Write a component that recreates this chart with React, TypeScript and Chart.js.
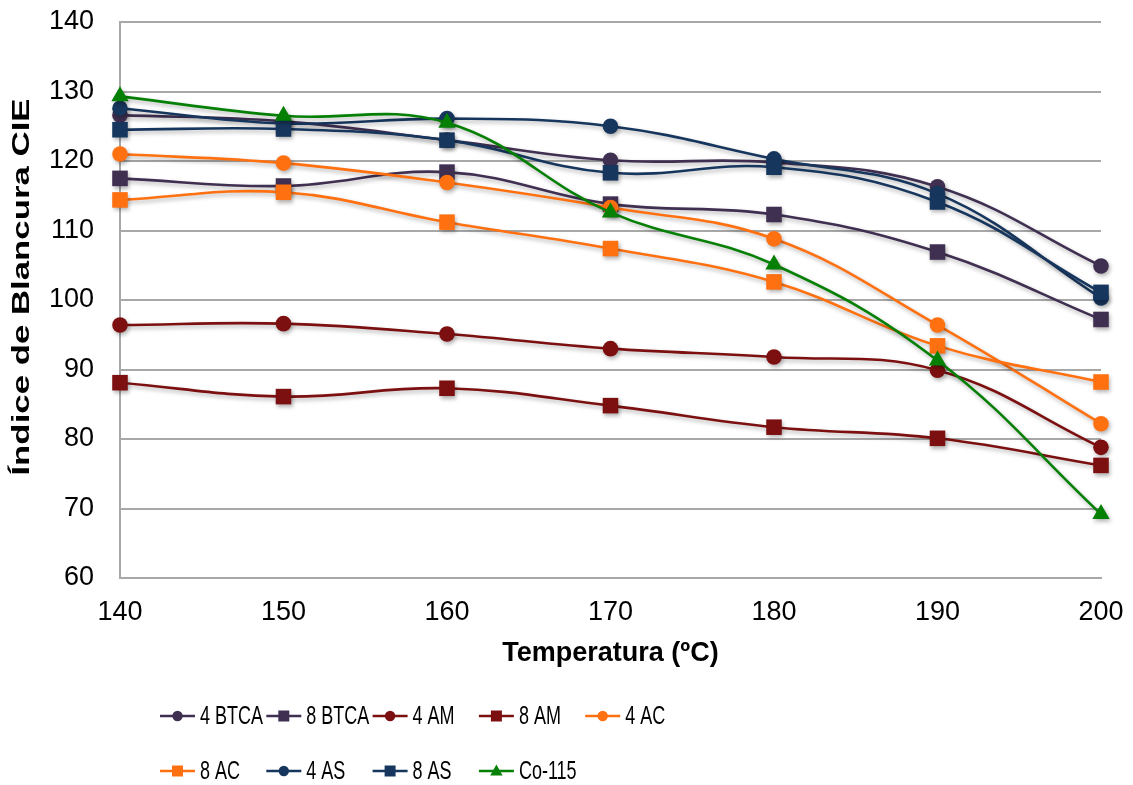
import { useEffect, useRef } from 'react';
import { Chart, registerables } from 'chart.js';

Chart.register(...registerables);

const temperatures = ['140', '150', '160', '170', '180', '190', '200'];

const btca4 = [126.6, 125.7, 123.0, 120.1, 119.8, 116.3, 104.9];
const btca8 = [117.5, 116.4, 118.4, 113.8, 112.3, 106.9, 97.2];
const am4 = [96.4, 96.6, 95.1, 93.0, 91.8, 89.9, 78.8];
const am8 = [88.1, 86.1, 87.3, 84.8, 81.7, 80.1, 76.2];
const ac4 = [121.0, 119.7, 116.9, 113.3, 108.8, 96.4, 82.2];
const ac8 = [114.4, 115.5, 111.2, 107.4, 102.6, 93.4, 88.2];
const as4 = [127.6, 125.4, 126.1, 125.0, 120.3, 115.3, 100.3];
const as8 = [124.5, 124.6, 123.0, 118.3, 119.1, 114.1, 101.1];
const co115 = [129.3, 126.5, 125.5, 112.6, 105.1, 91.3, 69.2];

const seriesLabels = ['4 BTCA', '8 BTCA', '4 AM', '8 AM', '4 AC', '8 AC', '4 AS', '8 AS', 'Co-115'];
const seriesValues = [btca4, btca8, am4, am8, ac4, ac8, as4, as8, co115];
const seriesColors = ['#3F2F51', '#3F2F51', '#7C1010', '#7C1010', '#FF7010', '#FF7010', '#17365D', '#17365D', '#058005'];
const seriesMarkers = ['circle', 'rect', 'circle', 'rect', 'circle', 'rect', 'circle', 'rect', 'triangle'];

const yMin = 60;
const yMax = 140;
const yStep = 10;

const xTitle = 'Temperatura (ºC)';
const yTitle = 'Índice de Blancura CIE';

const FONT = '"Liberation Sans", Arial, sans-serif';
const GRID = '#A8A8A8';
const NONE = 'rgba(0,0,0,0)';

function markerRadius(style: string) {
  if (style === 'rect') return 11;
  if (style === 'triangle') return 10;
  return 7.8;
}

function drawLegendMarker(ctx: CanvasRenderingContext2D, style: string, x: number, y: number, color: string) {
  ctx.fillStyle = color;
  ctx.beginPath();
  if (style === 'circle') {
    ctx.arc(x, y, 5.2, 0, Math.PI * 2);
  } else if (style === 'rect') {
    ctx.rect(x - 5.5, y - 5.5, 11, 11);
  } else {
    ctx.moveTo(x, y - 6.5);
    ctx.lineTo(x + 6.2, y + 4.5);
    ctx.lineTo(x - 6.2, y + 4.5);
    ctx.closePath();
  }
  ctx.fill();
}

const decorPlugin = {
  id: 'decor',
  beforeDatasetsDraw(chart: any) {
    const ctx = chart.ctx;
    ctx.save();
    ctx.shadowColor = 'rgba(0,0,0,0.30)';
    ctx.shadowBlur = 4;
    ctx.shadowOffsetX = 1.5;
    ctx.shadowOffsetY = 2.5;
  },
  afterDatasetsDraw(chart: any) {
    chart.ctx.restore();
  },
  afterDraw(chart: any) {
    const ctx: CanvasRenderingContext2D = chart.ctx;
    const area = chart.chartArea;

    // X axis title
    ctx.save();
    ctx.fillStyle = '#000';
    ctx.font = `bold 27px ${FONT}`;
    ctx.textAlign = 'center';
    ctx.textBaseline = 'middle';
    ctx.fillText(xTitle, (area.left + area.right) / 2, 654);
    ctx.restore();

    // Y axis title (rotated, stretched along its length)
    ctx.save();
    ctx.fillStyle = '#000';
    ctx.font = `bold 24px ${FONT}`;
    ctx.textAlign = 'center';
    ctx.textBaseline = 'middle';
    ctx.translate(22, 287);
    ctx.rotate(-Math.PI / 2);
    ctx.scale(1.45, 1);
    ctx.fillText(yTitle, 0, 0);
    ctx.restore();

    // Legend
    const datasets = chart.data.datasets;
    datasets.forEach((ds: any, i: number) => {
      const col = i % 5;
      const row = Math.floor(i / 5);
      const x0 = 160 + col * 106.3;
      const y = 716 + row * 55;
      ctx.save();
      ctx.strokeStyle = ds.borderColor;
      ctx.lineWidth = 2.5;
      ctx.beginPath();
      ctx.moveTo(x0, y);
      ctx.lineTo(x0 + 35, y);
      ctx.stroke();
      drawLegendMarker(ctx, ds.pointStyle, x0 + 17.5, y, ds.borderColor);
      ctx.fillStyle = '#000';
      ctx.font = `25px ${FONT}`;
      ctx.textAlign = 'left';
      ctx.textBaseline = 'middle';
      ctx.translate(x0 + 40, y + 1);
      ctx.scale(0.72, 1);
      ctx.fillText(ds.label, 0, 0);
      ctx.restore();
    });
  },
};

export default function App() {
  const canvasRef = useRef<HTMLCanvasElement | null>(null);

  useEffect(() => {
    document.body.style.margin = '0';
    const canvas = canvasRef.current;
    if (!canvas) return;

    const datasets = seriesLabels.map((label, i) => ({
      label,
      data: seriesValues[i],
      borderColor: seriesColors[i],
      backgroundColor: seriesColors[i],
      pointBackgroundColor: seriesColors[i],
      pointBorderColor: seriesColors[i],
      pointBorderWidth: 0,
      pointStyle: seriesMarkers[i],
      pointRadius: markerRadius(seriesMarkers[i]),
      pointHoverRadius: markerRadius(seriesMarkers[i]),
      borderWidth: 2.6,
      tension: 0.4,
      fill: false,
      clip: false as any,
      order: seriesLabels.length - i,
    }));

    const chart = new Chart(canvas, {
      type: 'line',
      data: { labels: temperatures, datasets },
      options: {
        responsive: false,
        animation: false,
        devicePixelRatio: 1,
        layout: { padding: { left: 0, top: 22, right: 32, bottom: 0 } },
        plugins: {
          legend: { display: false },
          tooltip: { enabled: false },
          title: { display: false },
        },
        scales: {
          x: {
            type: 'category',
            offset: false,
            afterFit: (scale: any) => {
              scale.height = 207;
            },
            grid: {
              display: true,
              drawOnChartArea: false,
              drawTicks: true,
              tickLength: 18,
              color: NONE,
              tickColor: NONE,
            },
            border: { display: true, color: GRID, width: 2 },
            ticks: {
              color: '#000',
              padding: 0,
              maxRotation: 0,
              font: { family: FONT, size: 27 },
            },
          },
          y: {
            type: 'linear',
            min: yMin,
            max: yMax,
            afterFit: (scale: any) => {
              scale.width = 120;
            },
            grid: { color: GRID, lineWidth: 2, drawTicks: true, tickLength: 26, tickColor: NONE },
            border: { display: true, color: GRID, width: 2 },
            ticks: {
              stepSize: yStep,
              color: '#000',
              padding: 0,
              font: { family: FONT, size: 27 },
            },
          },
        },
      },
      plugins: [decorPlugin],
    });

    return () => {
      chart.destroy();
    };
  }, []);

  return (
    <div style={{ position: 'absolute', left: 0, top: 0, width: 1133, height: 785, background: '#fff' }}>
      <canvas ref={canvasRef} width={1133} height={785} />
    </div>
  );
}
